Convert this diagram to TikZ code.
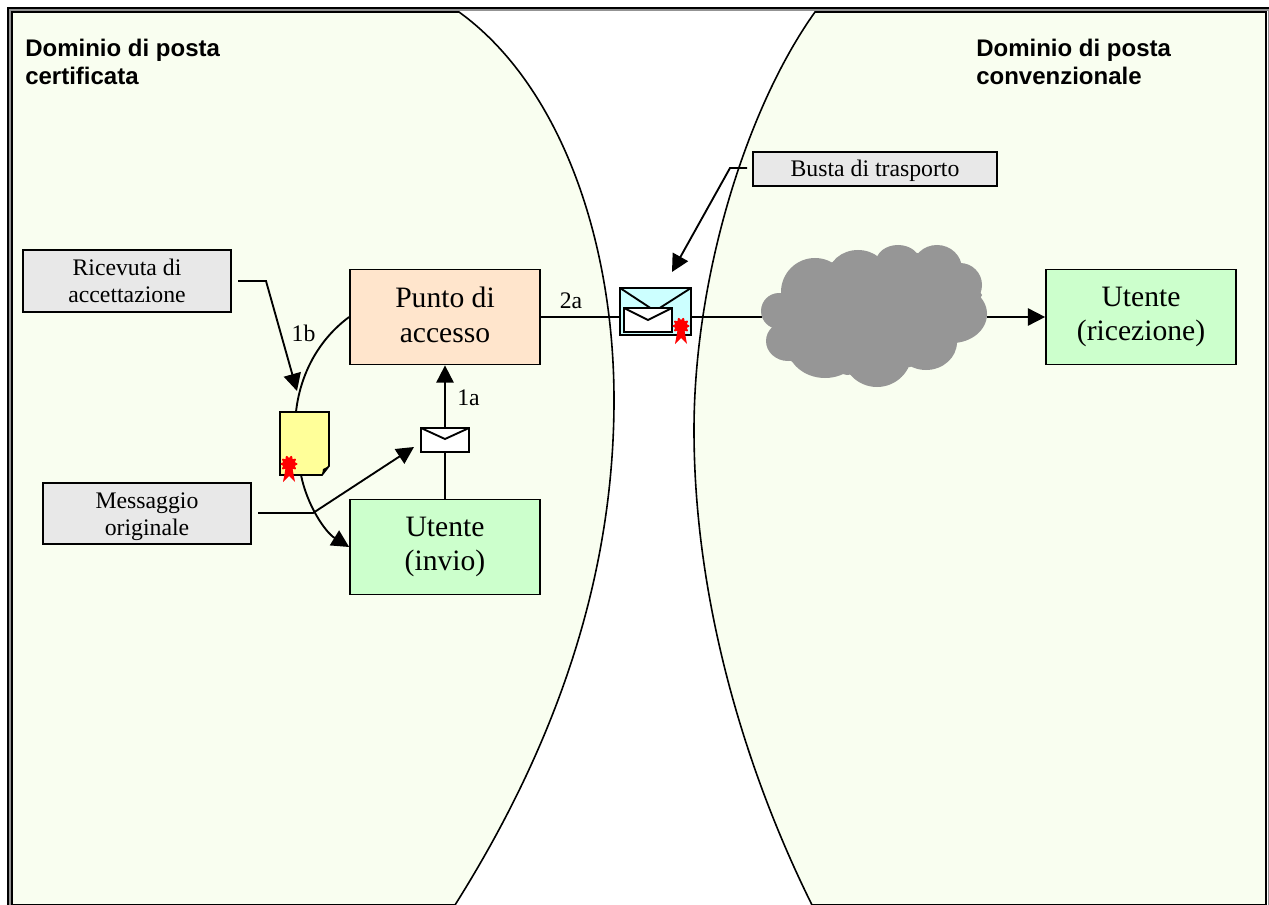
\documentclass[tikz,border=0pt]{standalone}
\usepackage{fontspec}
\setmainfont{Liberation Serif}
\newfontfamily\headfont{Liberation Sans}
\usetikzlibrary{arrows.meta}
\definecolor{domainfill}{HTML}{F9FEF0}
\definecolor{accessfill}{HTML}{FFE5CC}
\definecolor{userfill}{HTML}{CCFFCC}
\definecolor{notefill}{HTML}{E8E8E8}
\definecolor{docfill}{HTML}{FFFF99}
\definecolor{envfill}{HTML}{CCFFFF}
\definecolor{cloudfill}{HTML}{969696}
\tikzset{
  domainline/.style={draw=black,line width=1.2pt,fill=domainfill},
  bigbox/.style={draw=black,line width=1.3pt,minimum width=142.5pt,minimum height=71.25pt,inner sep=0pt,align=center,
    font=\fontsize{22.2}{26}\selectfont},
  notebox/.style={draw=black,line width=1.2pt,fill=notefill,inner sep=0pt,align=center,
    font=\fontsize{17.8}{20}\selectfont},
  lbl/.style={inner sep=0pt,font=\fontsize{17.8}{20}\selectfont},
  heading/.style={inner sep=0pt,anchor=north west,align=left,font=\headfont\bfseries\fontsize{18}{21}\selectfont},
  conn/.style={draw=black,line width=1.4pt},
  arr/.style={conn,-{Triangle[length=13pt,width=13pt]}},
  envbox/.style={draw=black,line width=1.5pt,inner sep=0pt},
  seal/.pic={
    \fill[red] plot[samples=61,domain=0:360,smooth] (\x:{7.3+1.2*cos(10*\x)}) -- cycle;
    \fill[red] (-3,2) -- (-6,18) -- (0,12) -- (6,18) -- (3,2) -- cycle;
  }
}
\begin{document}
\begin{tikzpicture}[x=0.75pt,y=-0.75pt]
\useasboundingbox (0,0) rectangle (1269,905);
% outer frame
\fill[white] (0,0) rectangle (1269,905);
\draw[line width=1.5pt,black] (8,905) -- (8,8) -- (1269,8);
\draw[line width=1.5pt,gray!85] (10,905) -- (10,10) -- (1269,10);
\draw[line width=1.5pt,gray!85] (1268.5,10) -- (1268.5,905);
% domains
\path[domainline] (12,905) -- (12,12) -- (459,12)
  .. controls (560,85) and (614,240) .. (614,400)
  .. controls (614,600) and (540,770) .. (455,905) -- cycle;
\path[domainline] (1266,905) -- (1266,12) -- (815,12)
  .. controls (745,110) and (694,280) .. (694,430)
  .. controls (694,600) and (745,770) .. (812,905) -- cycle;
% headings
\node[heading] (hleft) at (25,39) {Dominio di posta\\certificata};
\node[heading] (hright) at (976,39) {Dominio di posta\\convenzionale};
% boxes
\node[bigbox,fill=accessfill] (access) at (445,317) {Punto di\\accesso\rule[-3pt]{0pt}{0pt}};
\node[bigbox,fill=userfill] (sender) at (445,547) {Utente\\(invio)};
\node[bigbox,fill=userfill] (receiver) at (1141,317) {Utente\\(ricezione)};
\node[notebox,minimum width=156pt,minimum height=46.5pt] (ricevuta) at (127,281) {Ricevuta di\\accettazione};
\node[notebox,minimum width=156pt,minimum height=45.75pt] (messaggio) at (147,513.5) {\rule{0pt}{16.5pt}Messaggio\\originale};
\node[notebox,minimum width=183pt,minimum height=25.5pt] (busta) at (875,169) {\rule{0pt}{15pt}Busta di trasporto};
% envelope and document anchors
\node[envbox,fill=white,minimum width=36pt,minimum height=18pt] (envsmall) at (445,440) {};
\node[envbox,fill=envfill,minimum width=53.25pt,minimum height=35.25pt] (envbig) at (655.5,311.5) {};
\node[inner sep=0pt,minimum width=168.75pt,minimum height=106.5pt] (cloud) at (874.5,317) {};
% connectors
\draw[conn] (sender.north) -- (envsmall.south);
\draw[arr] (envsmall.north) -- (access.south);
\draw[conn] (access.east) -- (envbig.west |- access.east);
\draw[conn] (envbig.east |- cloud.east) -- (cloud.west);
\draw[arr] (cloud.east) -- (receiver.west);
\draw[conn] (access.west) .. controls (318,340) and (300,375) .. (296,412);
\draw[arr] (301,475) .. controls (307,505) and (325,532) .. (sender.west |- 0,547);
% callouts
\coordinate (ricevutaout) at (238,281);
\coordinate (ricevutabend) at (266,281);
\coordinate (ricevutatip) at (297,391);
\draw[arr] (ricevutaout) -- (ricevutabend) -- (ricevutatip);
\coordinate (messaggioout) at (258,513);
\coordinate (messaggiobend) at (313,513);
\coordinate (messaggiotip) at (414,447);
\draw[arr] (messaggioout) -- (messaggiobend) -- (messaggiotip);
\coordinate (bustaout) at (747,168);
\coordinate (bustabend) at (730,168);
\coordinate (bustatip) at (672,272);
\draw[arr] (bustaout) -- (bustabend) -- (bustatip);
% connector labels
\node[lbl] (l1a) at (468.5,398) {1a};
\node[lbl] (l1b) at (303.5,333) {1b};
\node[lbl] (l2a) at (571,301) {2a};
% small envelope flap
\draw[line width=1.4pt] (421,428) -- (445,439) -- (469,428);
% big envelope
\draw[line width=1.4pt] (620,288) -- (655,311) -- (691,288);
\draw[envbox,fill=white] (624,308) rectangle (672,332);
\draw[line width=1.4pt] (624,308) -- (648,320) -- (672,308);
\pic at (681,326) {seal};
% document
\draw[line width=1.3pt,fill=docfill] (280,412) -- (329,412) -- (329,466) -- (322,475) -- (280,475) -- cycle;
\fill[black] (329,466) -- (322,475) -- (323,469) -- cycle;
\pic at (289,464) {seal};
% cloud
\fill[cloudfill] (779,311) ellipse (18 and 18);
\fill[cloudfill] (788,341) ellipse (22 and 20);
\fill[cloudfill] (815,292) ellipse (34 and 34);
\fill[cloudfill] (858,276) ellipse (30 and 26);
\fill[cloudfill] (898,262) ellipse (22 and 17);
\fill[cloudfill] (937,269) ellipse (25 and 24);
\fill[cloudfill] (960,285) ellipse (22 and 22);
\fill[cloudfill] (952,314) ellipse (35 and 29);
\fill[cloudfill] (926,342) ellipse (31 and 28);
\fill[cloudfill] (877,352) ellipse (35 and 35);
\fill[cloudfill] (825,345) ellipse (38 and 33);
\fill[cloudfill] (833,262) -- (878,257) -- (917,253) -- (961,263) -- (982,295) -- (957,343) -- (910,367) -- (847,375) -- (792,362) -- (772,328) -- (782,293) -- cycle;
\end{tikzpicture}
\end{document}
